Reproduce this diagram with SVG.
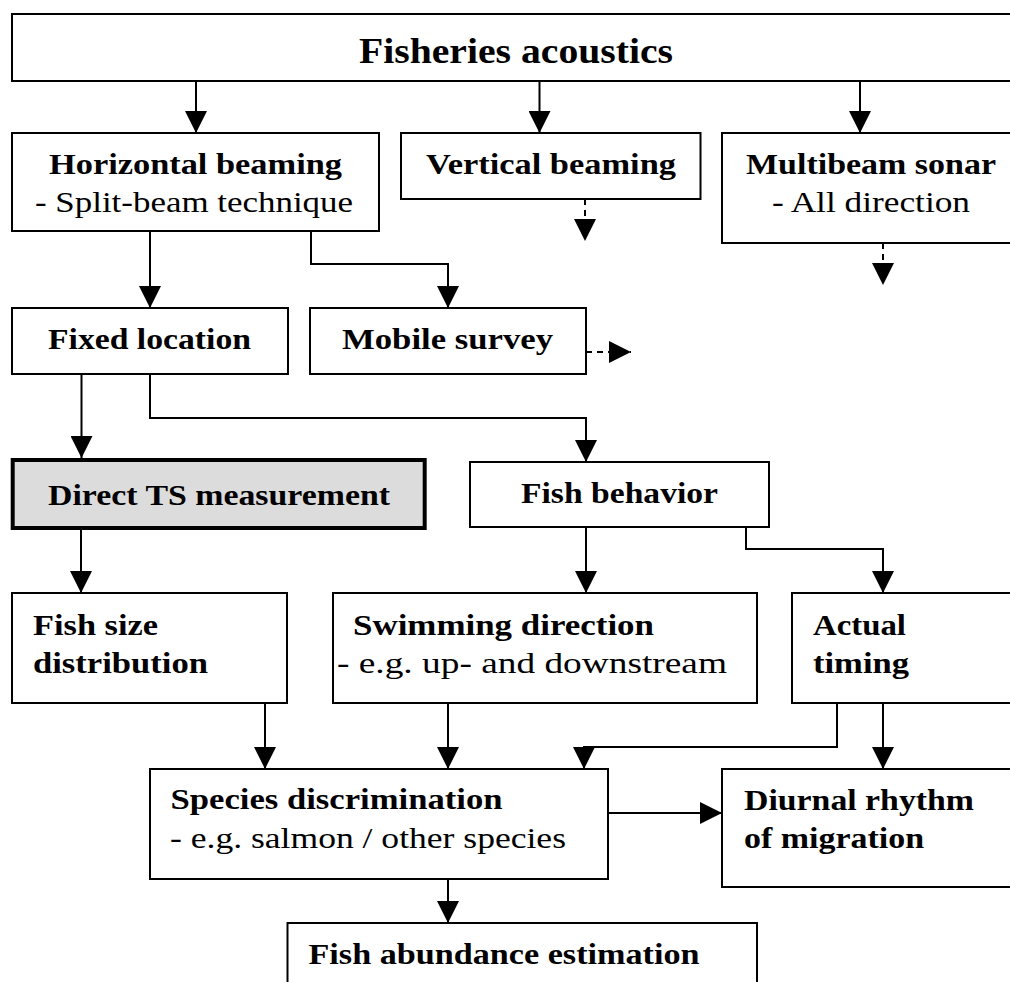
<svg xmlns="http://www.w3.org/2000/svg" width="1010" height="982" viewBox="0 0 1010 982">
<defs>
<marker id="ah" markerUnits="userSpaceOnUse" markerWidth="22" markerHeight="22" viewBox="0 0 21 21" refX="21" refY="10.5" orient="auto">
<path d="M0,0 L21,10.5 L0,21 z" fill="#000"/>
</marker>
<style>
.box{fill:#fff;stroke:#000;stroke-width:2}
.hl{fill:#dcdcdc;stroke:#000;stroke-width:4}
.b{font-family:"Liberation Serif","Times New Roman",serif;font-weight:bold;font-size:30px;fill:#000}
.r{font-family:"Liberation Serif","Times New Roman",serif;font-weight:normal;font-size:30px;fill:#000}
.t{font-size:36px}
.c{fill:none;stroke:#000;stroke-width:2;marker-end:url(#ah)}
.d{stroke-dasharray:6 5}
</style>
</defs>
<rect width="1010" height="982" fill="#fff"/>
<g id="connectors">
<path class="c" d="M196,81 V133"/>
<path class="c" d="M539.5,81 V133"/>
<path class="c" d="M860,81 V133"/>
<path class="c d" d="M585,199 V241"/>
<path class="c d" d="M883,243 V285"/>
<path class="c" d="M150,231 V308"/>
<path class="c" d="M311,231 V264 H448 V308"/>
<path class="c d" d="M586,352 H631"/>
<path class="c" d="M81.5,374 V458"/>
<path class="c" d="M150,374 V418 H586 V462"/>
<path class="c" d="M81,530 V593"/>
<path class="c" d="M586,527 V593"/>
<path class="c" d="M746,527 V549 H883 V593"/>
<path class="c" d="M265,703 V769"/>
<path class="c" d="M448,703 V769"/>
<path class="c" d="M837,703 V747 H584 V769"/>
<path class="c" d="M883,703 V769"/>
<path class="c" d="M608,813 H722"/>
<path class="c" d="M448,879 V923"/>
</g>
<g id="fisheries-acoustics">
<rect class="box" x="12" y="14" width="1010" height="67"/>
<text class="b t" x="359" y="63" textLength="314" lengthAdjust="spacingAndGlyphs">Fisheries acoustics</text>
</g>
<g id="horizontal-beaming">
<rect class="box" x="12" y="133" width="367" height="98"/>
<text class="b" x="49" y="174" textLength="293" lengthAdjust="spacingAndGlyphs">Horizontal beaming</text>
<text class="r" x="35" y="212" textLength="318" lengthAdjust="spacingAndGlyphs">- Split-beam technique</text>
</g>
<g id="vertical-beaming">
<rect class="box" x="401" y="133" width="299.5" height="66"/>
<text class="b" x="426" y="174" textLength="250" lengthAdjust="spacingAndGlyphs">Vertical beaming</text>
</g>
<g id="multibeam-sonar">
<rect class="box" x="722" y="133" width="300" height="110"/>
<text class="b" x="746" y="174" textLength="250" lengthAdjust="spacingAndGlyphs">Multibeam sonar</text>
<text class="r" x="772" y="212" textLength="198" lengthAdjust="spacingAndGlyphs">- All direction</text>
</g>
<g id="fixed-location">
<rect class="box" x="12" y="308" width="276" height="66"/>
<text class="b" x="48" y="349" textLength="203" lengthAdjust="spacingAndGlyphs">Fixed location</text>
</g>
<g id="mobile-survey">
<rect class="box" x="310" y="308" width="276" height="66"/>
<text class="b" x="342" y="349" textLength="211" lengthAdjust="spacingAndGlyphs">Mobile survey</text>
</g>
<g id="direct-ts-measurement">
<rect class="hl" x="12.7" y="460" width="412" height="68"/>
<text class="b" x="48" y="505" textLength="342" lengthAdjust="spacingAndGlyphs">Direct TS measurement</text>
</g>
<g id="fish-behavior">
<rect class="box" x="470" y="462" width="299" height="65"/>
<text class="b" x="521" y="503" textLength="197" lengthAdjust="spacingAndGlyphs">Fish behavior</text>
</g>
<g id="fish-size-distribution">
<rect class="box" x="12" y="593" width="275" height="110"/>
<text class="b" x="33" y="635" textLength="125" lengthAdjust="spacingAndGlyphs">Fish size</text>
<text class="b" x="33" y="673" textLength="175" lengthAdjust="spacingAndGlyphs">distribution</text>
</g>
<g id="swimming-direction">
<rect class="box" x="333" y="593" width="424" height="110"/>
<text class="b" x="353" y="635" textLength="301" lengthAdjust="spacingAndGlyphs">Swimming direction</text>
<text class="r" x="337" y="673" textLength="390" lengthAdjust="spacingAndGlyphs">- e.g. up- and downstream</text>
</g>
<g id="actual-timing">
<rect class="box" x="792" y="593" width="230" height="110"/>
<text class="b" x="813" y="635" textLength="93" lengthAdjust="spacingAndGlyphs">Actual</text>
<text class="b" x="813" y="673" textLength="96" lengthAdjust="spacingAndGlyphs">timing</text>
</g>
<g id="species-discrimination">
<rect class="box" x="150" y="769" width="458" height="110"/>
<text class="b" x="170.5" y="809" textLength="332" lengthAdjust="spacingAndGlyphs">Species discrimination</text>
<text class="r" x="170" y="848" textLength="396" lengthAdjust="spacingAndGlyphs">- e.g. salmon / other species</text>
</g>
<g id="diurnal-rhythm">
<rect class="box" x="722" y="769" width="300" height="118"/>
<text class="b" x="744" y="810" textLength="230" lengthAdjust="spacingAndGlyphs">Diurnal rhythm</text>
<text class="b" x="744" y="848" textLength="180" lengthAdjust="spacingAndGlyphs">of migration</text>
</g>
<g id="fish-abundance-estimation">
<rect class="box" x="287.5" y="923" width="469.5" height="80"/>
<text class="b" x="308.5" y="964" textLength="391" lengthAdjust="spacingAndGlyphs">Fish abundance estimation</text>
</g>
</svg>
